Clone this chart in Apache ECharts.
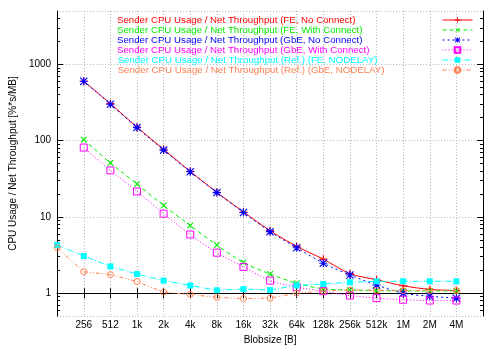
<!DOCTYPE html>
<html><head><meta charset="utf-8">
<script src="https://cdn.jsdelivr.net/npm/echarts@6/dist/echarts.min.js"></script>
<style>html,body{margin:0;padding:0;background:#fff}#c{width:500px;height:350px}</style>
</head><body><div id="c"></div>
<script>
const categories = ['128','256','512','1k','2k','4k','8k','16k','32k','64k','128k','256k','512k','1M','2M','4M','8M'];
const feNoConnect   = [null,600,305,150,77,39.5,21,11.6,6.6,4.1,2.79,1.8,1.5,1.25,1.12,1.08,null];
const feConnect     = [null,103,51,27,14.1,7.7,4.27,2.52,1.78,1.35,1.14,1.10,1.08,1.07,1.07,1.07,null];
const gbeNoConnect  = [null,600,300,148,75,39,20.8,11.4,6.4,3.94,2.47,1.73,1.28,1.0,0.91,0.86,null];
const gbeConnect    = [null,81,40.7,21.5,11.0,5.87,3.39,2.21,1.46,1.20,1.06,0.93,0.86,0.82,0.80,0.80,null];
const refFeNodelay  = [4.27,3.07,2.24,1.78,1.46,1.26,1.09,1.13,1.10,1.26,1.32,1.39,1.43,1.43,1.43,1.43,null];
const refGbeNodelay = [3.94,1.91,1.75,1.42,1.03,0.96,0.88,0.85,0.86,1.0,1.06,1.10,1.09,1.08,1.08,1.08,null];
const yMajor = [1,10,100,1000];
const yMinor = [0.6,0.7,0.8,0.9,2,3,4,5,6,7,8,9,20,30,40,50,60,70,80,90,200,300,400,500,600,700,800,900,2000,3000,4000];

const names = [
  'Sender CPU Usage / Net Throughput (FE, No Connect)',
  'Sender CPU Usage / Net Throughput (FE, With Connect)',
  'Sender CPU Usage / Net Throughput (GbE, No Connect)',
  'Sender CPU Usage / Net Throughput (GbE, With Connect)',
  'Sender CPU Usage / Net Throughput (Ref.) (FE, NODELAY)',
  'Sender CPU Usage / Net Throughput (Ref.) (GbE, NODELAY)'
];
const colors = ['#ff0000','#00ee00','#0000ff','#ff00ff','#00ffff','#ff7f50'];
const pads = [82,75,75,68,60,53];
const FONT = 'Liberation Sans';
const PLUS = 'path://M4.3,0H5.7V4.3H10V5.7H5.7V10H4.3V5.7H0V4.3H4.3Z';
const STAR = 'path://M4.3,0H5.7V4.3H10V5.7H5.7V10H4.3V5.7H0V4.3H4.3Z M0,1L1,0L10,9L9,10Z M9,0L10,1L1,10L0,9Z';

function mkSeries(i, data, symbol, size, dash, smooth, hollow, rot) {
  return {
    name: names[i], type: 'line', data: data, xAxisIndex: 0, yAxisIndex: 0,
    symbol: symbol, symbolSize: size, symbolRotate: rot || 0, smooth: smooth,
    showAllSymbol: true, connectNulls: false, animation: false,
    lineStyle: { color: colors[i], width: 1, type: dash },
    itemStyle: hollow ? { color: 'rgba(255,255,255,0)', borderColor: colors[i], borderWidth: 1 }
                      : { color: colors[i], borderWidth: 0 },
    z: 3 + i
  };
}

const lg = Math.log10;
const chart = echarts.init(document.getElementById('c'), null, {renderer: 'canvas'});
chart.setOption({
  animation: false,
  backgroundColor: '#fff',
  textStyle: { fontFamily: FONT },
  grid: { left: 49, right: 17, top: 11, bottom: 30, containLabel: false },
  legend: {
    orient: 'vertical', right: 27, top: 15, align: 'right', padding: 0,
    itemWidth: 30, itemHeight: 7, itemGap: 0,
    lineStyle: { width: 1 },
    textStyle: { fontSize: 9.7, lineHeight: 10, fontFamily: FONT },
    data: names.map((n, i) => ({ name: n, textStyle: { color: colors[i], padding: [0, pads[i], 0, 0] } }))
  },
  xAxis: [{
    type: 'category', data: categories, boundaryGap: false, position: 'bottom',
    axisLine: { lineStyle: { color: '#000', width: 1 } },
    axisTick: { inside: true, length: 5, interval: 0, lineStyle: { color: '#000' } },
    axisLabel: { interval: 0, margin: 4, fontSize: 10, color: '#000', fontFamily: FONT,
      formatter: (v, idx) => (idx === 0 || idx === categories.length - 1) ? '' : v },
    splitLine: { show: true, interval: 0, lineStyle: { color: '#b4b4b4', type: [1, 2], width: 1 } },
    name: 'Blobsize [B]', nameLocation: 'middle', nameGap: 18,
    nameTextStyle: { fontSize: 10, color: '#000', fontFamily: FONT }
  }, {
    type: 'category', data: categories, boundaryGap: false, position: 'top',
    axisLine: { lineStyle: { color: '#000', width: 1 } },
    axisTick: { inside: true, length: 5, interval: 0, lineStyle: { color: '#000' } },
    axisLabel: { show: false }, splitLine: { show: false }
  }],
  yAxis: [{
    type: 'log', logBase: 10, min: 0.5, max: 5000, position: 'left',
    axisLine: { show: true, lineStyle: { color: '#000', width: 1 } },
    axisTick: { show: true, inside: true, length: 6, lineStyle: { color: '#000' } },
    axisLabel: { fontSize: 10, color: '#000', margin: 6, fontFamily: FONT, showMinLabel: false, showMaxLabel: false,
      formatter: v => String(Math.round(v)) },
    splitLine: { show: true, lineStyle: { color: '#b4b4b4', type: [1, 2], width: 1 } },
    minorTick: { show: false },
    name: 'CPU Usage / Net Throughput [%*s/MB]', nameLocation: 'middle', nameGap: 31,
    nameTextStyle: { fontSize: 10, color: '#000', fontFamily: FONT }
  }, {
    type: 'value', min: lg(0.5), max: lg(5000), position: 'left',
    axisLine: { show: false },
    axisTick: { show: true, inside: true, length: 3, customValues: yMinor.map(lg), lineStyle: { color: '#000' } },
    axisLabel: { show: false }, splitLine: { show: false }
  }, {
    type: 'value', min: lg(0.5), max: lg(5000), position: 'right',
    axisLine: { show: true, lineStyle: { color: '#000', width: 1 } },
    axisTick: { show: true, inside: true, length: 6, customValues: yMajor.map(lg), lineStyle: { color: '#000' } },
    axisLabel: { show: false }, splitLine: { show: false }
  }, {
    type: 'value', min: lg(0.5), max: lg(5000), position: 'right',
    axisLine: { show: false },
    axisTick: { show: true, inside: true, length: 3, customValues: yMinor.map(lg), lineStyle: { color: '#000' } },
    axisLabel: { show: false }, splitLine: { show: false }
  }],
  series: [
    mkSeries(0, feNoConnect, PLUS, 8, 'solid', 0.3, false),
    mkSeries(1, feConnect, PLUS, 8, [4, 3], 0.3, false, 45),
    mkSeries(2, gbeNoConnect, STAR, 8, [2, 3], 0.3, false),
    mkSeries(3, gbeConnect, 'rect', 7, [1, 2], 0.3, true),
    mkSeries(4, refFeNodelay, 'rect', 6, [6, 2, 1, 2], 0, false),
    mkSeries(5, refGbeNodelay, 'circle', 6, [4, 2, 1, 2, 1, 2], 0, true)
  ]
});
</script></body></html>
